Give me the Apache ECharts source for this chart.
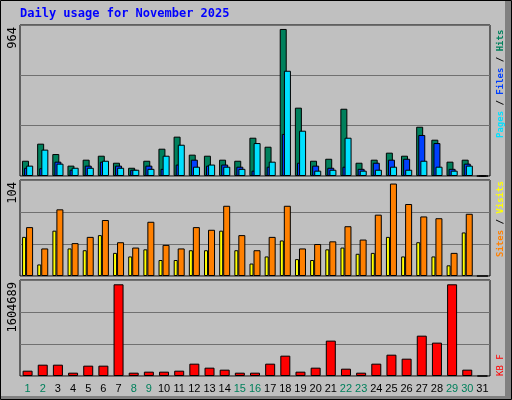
<!DOCTYPE html>
<html>
<head>
<meta charset="utf-8">
<script src="https://cdn.jsdelivr.net/npm/echarts@6/dist/echarts.min.js"></script>
<style>
  html, body { margin: 0; padding: 0; background: #c0c0c0; }
  #chart { width: 512px; height: 400px; }
</style>
</head>
<body>
<div id="chart"></div>
<script>
// daily usage data
const days = [];
for (let d = 1; d <= 31; d++) days.push(String(d));
const weekendDays = ['1', '2', '8', '9', '15', '16', '22', '23', '29', '30'];

const hits  = [100, 212, 144, 68, 107, 133, 87, 54, 100, 179, 258, 140, 133, 107, 100, 251, 192, 964, 448, 100, 113, 441, 87, 107, 153, 133, 323, 238, 94, 107, 0];
const files = [54, 51, 94, 41, 68, 94, 68, 41, 68, 47, 75, 107, 68, 75, 61, 35, 61, 276, 87, 68, 54, 61, 47, 87, 107, 113, 269, 216, 47, 81, 0];
const pages = [68, 173, 81, 54, 54, 100, 54, 41, 47, 133, 205, 61, 75, 61, 47, 216, 94, 690, 297, 35, 41, 251, 35, 41, 61, 41, 100, 61, 35, 68, 0];

const visits = [44, 13, 51, 31, 29, 46, 26, 22, 30, 18, 18, 29, 29, 51, 29, 14, 22, 40, 19, 18, 30, 32, 25, 26, 44, 22, 38, 22, 12, 49, 0];
const sites  = [55, 31, 75, 37, 44, 63, 38, 32, 61, 35, 31, 55, 52, 79, 46, 29, 44, 79, 31, 36, 39, 56, 41, 69, 104, 81, 67, 65, 26, 70, 0];

const kbytes = [93000, 198000, 198000, 58000, 181000, 181000, 1604689, 58000, 76000, 76000, 93000, 216000, 146000, 111000, 58000, 58000,
                216000, 356000, 76000, 146000, 619000, 128000, 58000, 216000, 373000, 303000, 706000, 584000, 1604689, 111000, 0];

const maxLabels = ['964', '104', '1604689'];

const mono = 'DejaVu Sans Mono';
const gridBase = { left: 20, right: 22, show: true, backgroundColor: '#c0c0c0', borderColor: '#000', borderWidth: 1 };

function xAxisFor(i, showLabels) {
    return {
        type: 'category', gridIndex: i, data: days,
        axisLine: { show: false }, axisTick: { show: false },
        axisLabel: {
            show: showLabels, interval: 0, margin: 7, fontSize: 11, fontFamily: 'Liberation Sans',
            color: v => weekendDays.includes(v) ? '#00805c' : '#000'
        }
    };
}
function yAxisFor(i, max) {
    return {
        type: 'value', gridIndex: i, min: 0, max: max, interval: max / 3,
        axisLabel: { show: false }, axisLine: { show: false }, axisTick: { show: false },
        splitLine: { show: true, lineStyle: { color: '#707070', width: 1 } }
    };
}
const border = { borderColor: '#000', borderWidth: 1 };

const chart = echarts.init(document.getElementById('chart'));
chart.setOption({
    backgroundColor: '#c0c0c0',
    animation: false,
    grid: [
        Object.assign({ top: 25, height: 151 }, gridBase),
        Object.assign({ top: 180, height: 96 }, gridBase),
        Object.assign({ top: 280, height: 96 }, gridBase)
    ],
    xAxis: [xAxisFor(0, false), xAxisFor(1, false), xAxisFor(2, true)],
    yAxis: [yAxisFor(0, 990), yAxisFor(1, 108), yAxisFor(2, 1680000)],
    series: [
        { name: 'Hits', type: 'bar', xAxisIndex: 0, yAxisIndex: 0, data: hits, barWidth: 7, barGap: '-70%',
          itemStyle: Object.assign({ color: '#00805c' }, border) },
        { name: 'Files', type: 'bar', xAxisIndex: 0, yAxisIndex: 0, data: files, barWidth: 7, barGap: '-70%',
          itemStyle: Object.assign({ color: '#0040ff' }, border) },
        { name: 'Pages', type: 'bar', xAxisIndex: 0, yAxisIndex: 0, data: pages, barWidth: 7, barGap: '-70%',
          itemStyle: Object.assign({ color: '#00e0ff' }, border) },
        { name: 'Visits', type: 'bar', xAxisIndex: 1, yAxisIndex: 1, data: visits, barWidth: 4, barGap: '0%',
          itemStyle: Object.assign({ color: '#ffff00' }, border) },
        { name: 'Sites', type: 'bar', xAxisIndex: 1, yAxisIndex: 1, data: sites, barWidth: 7, barGap: '0%',
          itemStyle: Object.assign({ color: '#ff8000' }, border) },
        { name: 'KBytes', type: 'bar', xAxisIndex: 2, yAxisIndex: 2, data: kbytes, barWidth: 10,
          itemStyle: Object.assign({ color: '#ff0000' }, border) }
    ],
    graphic: [
        { type: 'rect', shape: { x: 0.5, y: 0.5, width: 511, height: 399 },
          style: { fill: 'none', stroke: '#000', lineWidth: 1 }, silent: true },
        { type: 'rect', shape: { x: 505, y: 1, width: 6, height: 398 }, style: { fill: '#808080' }, silent: true },
        { type: 'rect', shape: { x: 1, y: 396, width: 510, height: 3 }, style: { fill: '#808080' }, silent: true },
        { type: 'text', left: 20, top: 8,
          style: { text: 'Daily usage for November 2025', fill: '#0000ff', font: 'bold 12px ' + mono } },
        // max value labels, rotated on the left
        { type: 'text', x: 7, y: 27, rotation: Math.PI / 2,
          style: { text: maxLabels[0], fill: '#000', font: '12px ' + mono, align: 'right', verticalAlign: 'top' } },
        { type: 'text', x: 7, y: 182, rotation: Math.PI / 2,
          style: { text: maxLabels[1], fill: '#000', font: '12px ' + mono, align: 'right', verticalAlign: 'top' } },
        { type: 'text', x: 7, y: 282, rotation: Math.PI / 2,
          style: { text: maxLabels[2], fill: '#000', font: '12px ' + mono, align: 'right', verticalAlign: 'top' } },
        // legends on the right, read bottom to top
        { type: 'text', x: 496, y: 138, rotation: Math.PI / 2,
          style: { text: '{p|Pages}{s| / }{f|Files}{s| / }{h|Hits}', font: 'bold 9px ' + mono, verticalAlign: 'top',
                   rich: { p: { fill: '#00e0ff' }, s: { fill: '#000' }, f: { fill: '#0040ff' }, h: { fill: '#00805c' } } } },
        { type: 'text', x: 496, y: 257, rotation: Math.PI / 2,
          style: { text: '{o|Sites}{s| / }{y|Visits}', font: 'bold 9px ' + mono, verticalAlign: 'top',
                   rich: { o: { fill: '#ff8000' }, s: { fill: '#000' }, y: { fill: '#ffff00' } } } },
        { type: 'text', x: 496, y: 376, rotation: Math.PI / 2,
          style: { text: 'KB F', fill: '#ff0000', font: '9px ' + mono, verticalAlign: 'top' } }
    ]
});
</script>
</body>
</html>
